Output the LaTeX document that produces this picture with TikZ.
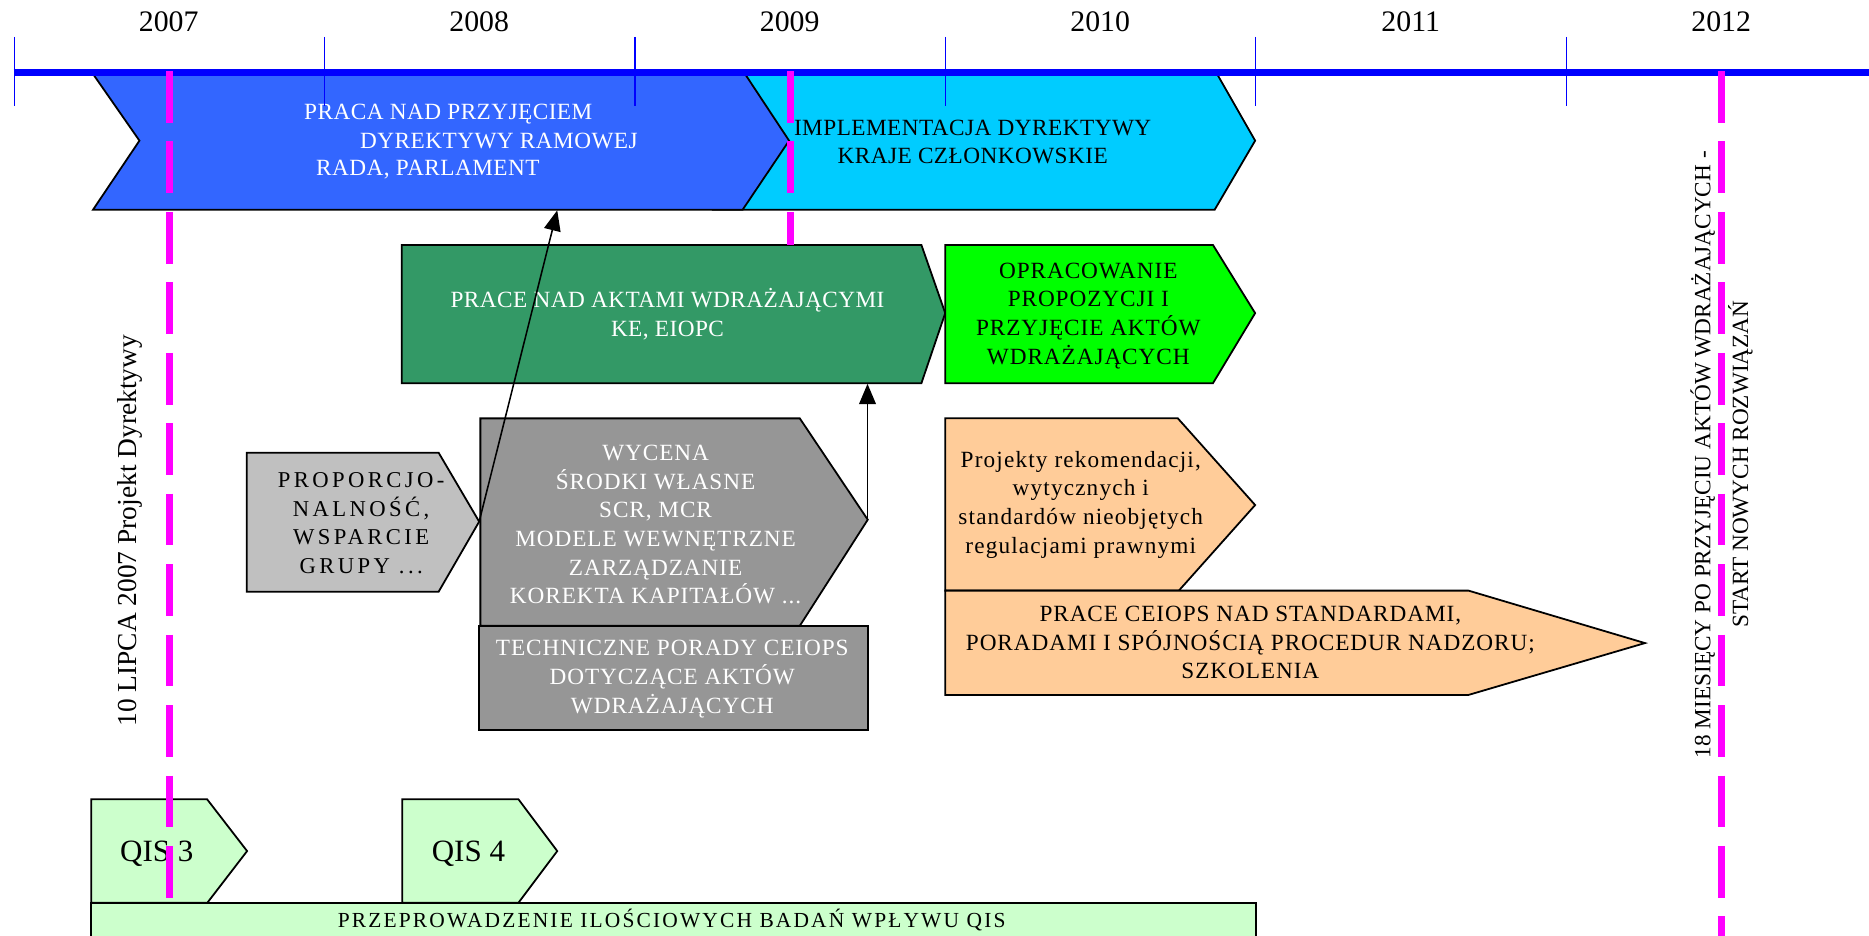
\documentclass[tikz,border=0pt]{standalone}
\usepackage{fontspec}
\setmainfont{Liberation Serif}
\newfontfamily\lsA{Liberation Serif}[LetterSpace=2]
\newfontfamily\lsB{Liberation Serif}[LetterSpace=4]
\newfontfamily\lsC{Liberation Serif}[LetterSpace=5]
\newfontfamily\lsD{Liberation Serif}[LetterSpace=15]
\newfontfamily\lsE{Liberation Serif}[LetterSpace=10]
\usetikzlibrary{arrows.meta}
\definecolor{cBlue}{HTML}{3366FF}
\definecolor{cCyan}{HTML}{00CCFF}
\definecolor{cDGreen}{HTML}{339966}
\definecolor{cLGreen}{HTML}{00FF00}
\definecolor{cPeach}{HTML}{FFCC99}
\definecolor{cLGray}{HTML}{C0C0C0}
\definecolor{cDGray}{HTML}{969696}
\definecolor{cPale}{HTML}{CCFFCC}
\definecolor{cLine}{HTML}{0000FF}
\definecolor{cMag}{HTML}{FF00FF}
\newcommand{\fsz}[1]{\fontsize{#1}{24}\selectfont}
\begin{document}
\begin{tikzpicture}[x=1pt,y=-1pt,
  box/.style={draw=black, line width=1.5pt, line join=miter},
  txt/.style={inner sep=0pt, align=center},
  year/.style={inner sep=0pt, anchor=base, font=\fontsize{25}{30}\selectfont},
  tick/.style={draw=cLine, line width=1pt},
  conn/.style={draw=black, line width=1.3pt, -{Triangle[length=17pt,width=14pt]}},
  magdash/.style={draw=cMag, line width=5.6pt, dash pattern=on 43.4pt off 15.7pt}]
\useasboundingbox (0,0) rectangle (1568,785);
\clip (0,0) rectangle (1568,785);
\fill[white] (0,0) rectangle (1568,785);

% shapes
\filldraw[fill=cCyan, box] (598,62) -- (1021,62) -- (1053,118) -- (1019,176) -- (598,176) -- cycle;
\filldraw[fill=cBlue, box] (78,62) -- (625,62) -- (662,118) -- (623,176) -- (78,176) -- (117,118) -- cycle;
\filldraw[fill=cDGreen, box] (337,205.5) -- (773,205.5) -- (793,262.7) -- (773,321.5) -- (337,321.5) -- cycle;
\filldraw[fill=cLGreen, box] (793,205.5) -- (1017.6,205.5) -- (1053,262.7) -- (1017.6,321.5) -- (793,321.5) -- cycle;
\filldraw[fill=cPeach, box] (793,350.8) -- (988,350.8) -- (1053,423.7) -- (989,495.5) -- (793,495.5) -- cycle;
\filldraw[fill=cPeach, box] (793,495.5) -- (1232,495.5) -- (1380,539.5) -- (1232,583) -- (793,583) -- cycle;
\filldraw[fill=cLGray, box] (207,379.8) -- (368,379.8) -- (402,437.6) -- (368,496.4) -- (207,496.4) -- cycle;
\filldraw[fill=cDGray, box] (403,351) -- (671,351) -- (728,436) -- (671,525) -- (403,525) -- cycle;
\filldraw[fill=cDGray, box] (402,525) rectangle (728,612.4);
\filldraw[fill=cPale, box] (76.5,670.6) -- (173.8,670.6) -- (207.3,714) -- (174,757.3) -- (76.5,757.3) -- cycle;
\filldraw[fill=cPale, box] (337.5,670.6) -- (435,670.6) -- (467.5,714) -- (435,757.3) -- (337.5,757.3) -- cycle;
\filldraw[fill=cPale, box] (76.5,757.3) rectangle (1054,800);

% texts
\node[inner sep=0pt, anchor=base west, text=white, font=\lsA\fsz{19.5}] (blueA) at (255,100.5) {PRACA NAD PRZYJĘCIEM};
\node[inner sep=0pt, anchor=base west, text=white, font=\lsA\fsz{19.5}] (blueB) at (302,124.5) {DYREKTYWY RAMOWEJ};
\node[inner sep=0pt, anchor=base west, text=white, font=\lsA\fsz{19.5}] (blueC) at (265,147.5) {RADA, PARLAMENT};
\node[txt, font=\lsA\fsz{19.5}] (cyanT) at (816,120.7) {\strut IMPLEMENTACJA DYREKTYWY\\\strut KRAJE CZŁONKOWSKIE};
\node[txt, text=white, font=\lsA\fsz{19.5}] (dgreenT) at (560,265.4) {\strut PRACE NAD AKTAMI WDRAŻAJĄCYMI\\\strut KE, EIOPC};
\node[txt, font=\lsB\fsz{19.5}] (lgreenT) at (913,264.7) {\strut OPRACOWANIE\\\strut PROPOZYCJI I\\\strut PRZYJĘCIE AKTÓW\\\strut WDRAŻAJĄCYCH};
\node[txt, font=\lsC\fsz{19.5}] (peachA) at (906.7,423.2) {\strut Projekty rekomendacji,\\\strut wytycznych i\\\strut standardów nieobjętych\\\strut regulacjami prawnymi};
\node[txt, font=\lsB\fsz{19.5}] (peachB) at (1049,540.7) {\strut PRACE CEIOPS NAD STANDARDAMI,\\\strut PORADAMI I SPÓJNOŚCIĄ PROCEDUR NADZORU;\\\strut SZKOLENIA};
\node[txt, font=\lsD\fsz{19}] (propT) at (303,440.4) {\strut PROPORCJO-\\\strut NALNOŚĆ,\\\strut WSPARCIE\\\strut GRUPY ...};
\node[txt, text=white, font=\lsB\fsz{19.5}] (wycT) at (550,441.7) {\strut WYCENA\\\strut ŚRODKI WŁASNE\\\strut SCR, MCR\\\strut MODELE WEWNĘTRZNE\\\strut ZARZĄDZANIE\\\strut KOREKTA KAPITAŁÓW ...};
\node[txt, text=white, font=\lsB\fsz{19.5}] (techT) at (564,569.5) {\strut TECHNICZNE PORADY CEIOPS\\\strut DOTYCZĄCE AKTÓW\\\strut WDRAŻAJĄCYCH};
\node[inner sep=0pt, anchor=base, font=\fontsize{26}{30}\selectfont] (qis3) at (131.5,722.4) {QIS 3};
\node[inner sep=0pt, anchor=base, font=\fontsize{26}{30}\selectfont] (qis4) at (393,722.4) {QIS 4};
\node[inner sep=0pt, anchor=base, font=\lsE\fsz{18}] (qisAll) at (563.5,777.7) {PRZEPROWADZENIE ILOŚCIOWYCH BADAŃ WPŁYWU QIS};

% vertical texts
\node[inner sep=0pt, anchor=base, rotate=90, font=\fontsize{23}{28}\selectfont] (lipca) at (114.6,445.3) {10 LIPCA 2007 Projekt Dyrektywy};
\node[inner sep=0pt, anchor=base, rotate=90, font=\fontsize{19.5}{28}\selectfont] (rightA) at (1435,381.4) {18 MIESIĘCY PO PRZYJĘCIU AKTÓW WDRAŻAJĄCYCH -};
\node[inner sep=0pt, anchor=base, rotate=90, font=\fontsize{19.5}{28}\selectfont] (rightB) at (1466.5,389.5) {START NOWYCH ROZWIĄZAŃ};

% timeline
\foreach \tx/\nm in {12/t0,272.1/t1,532.7/t2,793.4/t3,1053.6/t4,1314.2/t5}{
  \coordinate (\nm a) at (\tx,31);
  \coordinate (\nm b) at (\tx,89);
  \draw[tick] (\nm a) -- (\nm b);
}
\coordinate (tlL) at (11.5,61);
\coordinate (tlR) at (1570,61);
\draw[draw=cLine, line width=5.6pt] (tlL) -- (tlR);
\node[year] (y2007) at (141.5,26.6) {2007};
\node[year] (y2008) at (402,26.6) {2008};
\node[year] (y2009) at (662.5,26.6) {2009};
\node[year] (y2010) at (923,26.6) {2010};
\node[year] (y2011) at (1183.5,26.6) {2011};
\node[year] (y2012) at (1444,26.6) {2012};

% connectors
\coordinate (propTip) at (402,437.6);
\coordinate (blueBot) at (467.5,176.5);
\coordinate (wycTip) at (727.8,436);
\coordinate (dgBot) at (727.8,322);
\draw[conn] (propTip) -- (blueBot);
\draw[conn] (wycTip) -- (dgBot);

% magenta date lines
\coordinate (m7a) at (142,59.6);
\coordinate (m7b) at (142,757);
\coordinate (m9a) at (663,59.6);
\coordinate (m9b) at (663,205.5);
\coordinate (m12a) at (1444.3,59.6);
\coordinate (m12b) at (1444.3,800);
\draw[magdash] (m7a) -- (m7b);
\draw[magdash] (m9a) -- (m9b);
\draw[magdash] (m12a) -- (m12b);
\end{tikzpicture}
\end{document}
